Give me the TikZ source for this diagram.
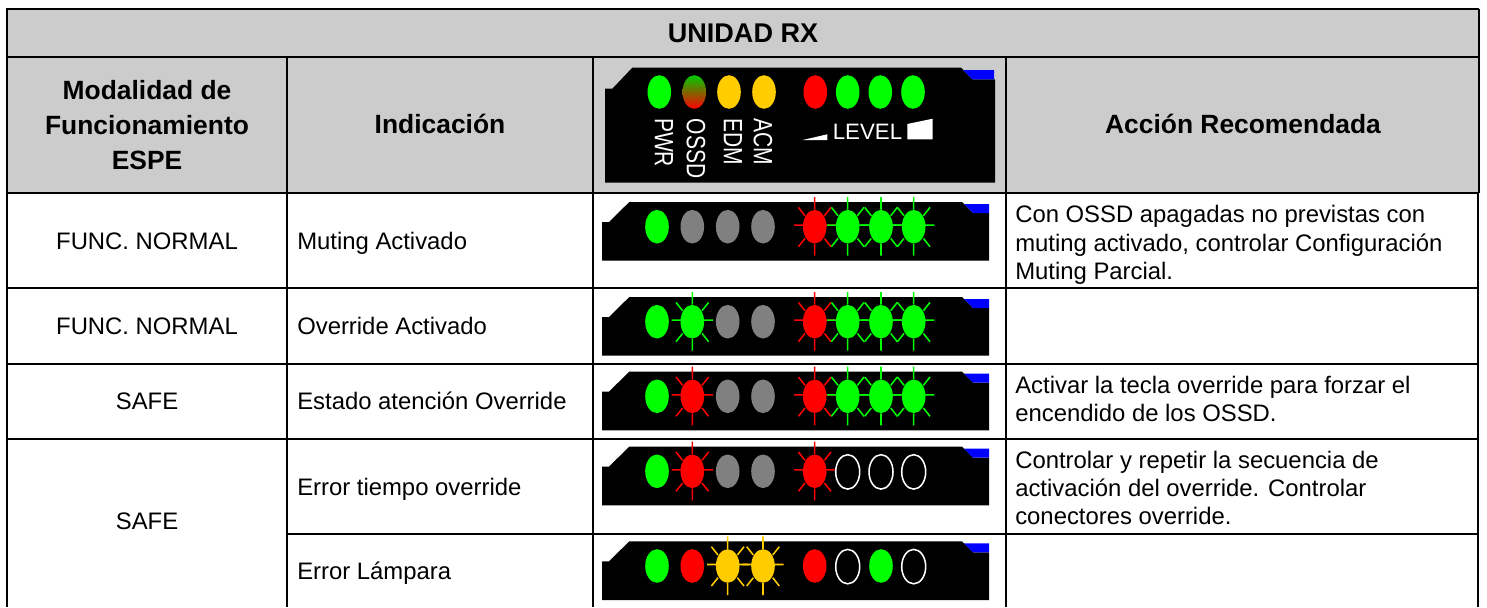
\documentclass[tikz,border=0pt]{standalone}
\usepackage{fontspec}
\setmainfont{Liberation Sans}
\definecolor{hdr}{HTML}{CCCCCC}
\definecolor{ledg}{HTML}{00FF00}
\definecolor{ledr}{HTML}{FF0000}
\definecolor{ledy}{HTML}{FFCC00}
\definecolor{ledk}{HTML}{808080}
\definecolor{ledb}{HTML}{0000FF}
\tikzset{
  grid/.style={line width=1.35pt,black},
  gridout/.style={line width=1.5pt,black},
  bodytext/.style={inner sep=0pt,font=\fontsize{17.9pt}{21.2pt}\selectfont,text=black},
  lefttext/.style={bodytext,anchor=west,align=left},
  headtext/.style={inner sep=0pt,align=center,font=\fontsize{19.8pt}{26.25pt}\selectfont\bfseries,text=black},
  ledlabel/.style={inner sep=0pt,text=white,rotate=-90,font=\fontsize{15.75pt}{18pt}\selectfont},
  ray/.style={line width=1.15pt},
}
\newcommand{\ledxs}{{657,692.3,727.7,763,814.7,847.7,881,913.7}}
% #1 vertical offset, #2 list colour/mode for the eight LEDs: 0 steady, 1 blinking, 2 outline only
\newcommand{\ledrow}[2]{%
  \begin{scope}[shift={(0,#1)}]
    \fill[black] (602,222) -- (609,222) -- (629.3,202) -- (962,202) -- (973,213) -- (989,213) -- (989,260.7) -- (602,260.7) -- cycle;
    \fill[ledb] (964,204) -- (989,204) -- (989,213) -- (973,213) -- cycle;
    \foreach \lc/\lb [count=\i from 0] in {#2}{%
      \pgfmathsetmacro{\cx}{\ledxs[\i]}%
      \ifnum\lb=1
        \draw[ray,draw=\lc,shift={(\cx,226.7)}] (0,-29.7)--(0,-17) (0,17)--(0,29)
            (-20.7,-1.5)--(-11,-1.5) (11,-1.5)--(20.7,-1.5)
            (-16.3,-19.3)--(-9.7,-11) (16.3,-19.3)--(9.7,-11)
            (-16.3,20)--(-9.7,11.7) (16.3,20)--(9.7,11.7);
      \fi
    }%
    \foreach \lc/\lb [count=\i from 0] in {#2}{%
      \pgfmathsetmacro{\cx}{\ledxs[\i]}%
      \ifnum\lb=2
        \draw[white,line width=1.15pt,fill=black] (\cx,227.3) ellipse [x radius=12,y radius=17.2];
      \else
        \fill[\lc] (\cx,226.7) ellipse [x radius=11.8,y radius=16.8];
      \fi
    }%
  \end{scope}%
}
\begin{document}
\begin{tikzpicture}[x=0.75pt,y=-0.75pt]
\useasboundingbox (0,0) rectangle (1487,607);
% header fill
\fill[hdr] (7,9) rectangle (1479,193);
% grid
\draw[gridout] (1479,9) -- (7,9) -- (7,607);
\draw[gridout] (1479,9) -- (1479,193);
\draw[gridout] (1478,193) -- (1478,607);
\draw[grid] (7,57) -- (1479,57);
\draw[gridout] (7,193) -- (1479,193);
\foreach \yy in {288,364,439}{\draw[grid] (7,\yy) -- (1478,\yy);}
\draw[grid] (287,534) -- (1478,534);
\foreach \xx in {287,593,1006}{\draw[grid] (\xx,57) -- (\xx,607);}
% header panel
\fill[black] (605,88.7) -- (612.3,88.7) -- (632.3,67.7) -- (961,67.7) -- (972.3,79.3) -- (995,79.3) -- (995,182.7) -- (605,182.7) -- cycle;
\fill[ledb] (963,70) -- (994,70) -- (994,79.3) -- (972.3,79.3) -- cycle;
\foreach \cx/\lc in {659.3/ledg,729/ledy,764/ledy,815.3/ledr,847.7/ledg,880.3/ledg,913/ledg}{
  \fill[\lc] (\cx,92) ellipse [x radius=11.8,y radius=16.8];
}
\shade[top color=green!80!black,bottom color=ledr] (694.3,92) ellipse [x radius=11.8,y radius=16.8];
\node[ledlabel] (pwr) at (664,142.5) {\scalebox{1}[1.26]{PWR}};
\node[ledlabel] (ossd) at (696,148.5) {\scalebox{1}[1.26]{OSSD}};
\node[ledlabel] (edm) at (733,142) {\scalebox{1}[1.26]{EDM}};
\node[ledlabel] (acm) at (763,142) {\scalebox{1}[1.26]{ACM}};
\node[inner sep=0pt,text=white,font=\fontsize{16.7pt}{18pt}\selectfont] (level) at (867.5,132) {LEVEL};
\fill[white] (802.7,140) -- (827.3,134.3) -- (827.3,140) -- cycle;
\fill[white] (907.3,124) -- (932.7,118.7) -- (932.7,139.3) -- (907.3,139.3) -- cycle;
% LED rows
\ledrow{0}{ledg/0,ledk/0,ledk/0,ledk/0,ledr/1,ledg/1,ledg/1,ledg/1}
\ledrow{95}{ledg/0,ledg/1,ledk/0,ledk/0,ledr/1,ledg/1,ledg/1,ledg/1}
\ledrow{169.6}{ledg/0,ledr/1,ledk/0,ledk/0,ledr/1,ledg/1,ledg/1,ledg/1}
\ledrow{244.6}{ledg/0,ledr/1,ledk/0,ledk/0,ledr/1,white/2,white/2,white/2}
\ledrow{339.3}{ledg/0,ledr/0,ledy/1,ledy/1,ledr/0,white/2,ledg/0,white/2}
% texts
\node[headtext,font=\fontsize{20.3pt}{24pt}\selectfont\bfseries] (title) at (743,33) {UNIDAD RX};
\node[headtext] (h1) at (147,125) {Modalidad de\\Funcionamiento\\ESPE};
\node[headtext] (h2) at (440,124) {Indicación};
\node[headtext] (h4) at (1243,124) {Acción Recomendada};
\node[bodytext] (m1) at (147,241) {FUNC. NORMAL};
\node[bodytext] (m2) at (147,326) {FUNC. NORMAL};
\node[bodytext] (m3) at (147,401) {SAFE};
\node[bodytext] (m4) at (147,521) {SAFE};
\node[lefttext] (i1) at (297,243) {Muting Activado};
\node[lefttext] (i2) at (297,326) {Override Activado};
\node[lefttext] (i3) at (297,401) {Estado atención Override};
\node[lefttext] (i4) at (297,489) {Error tiempo override};
\node[lefttext] (i5) at (297,573) {Error Lámpara};
\node[lefttext] (a1) at (1015,245) {Con OSSD apagadas no previstas con\\muting activado, controlar Configuración\\Muting Parcial.};
\node[lefttext] (a3) at (1015,399) {Activar la tecla override para forzar el\\encendido de los OSSD.};
\node[lefttext] (a4) at (1015,488) {Controlar y repetir la secuencia de\\activación del override. Controlar\\conectores override.};
\end{tikzpicture}
\end{document}
